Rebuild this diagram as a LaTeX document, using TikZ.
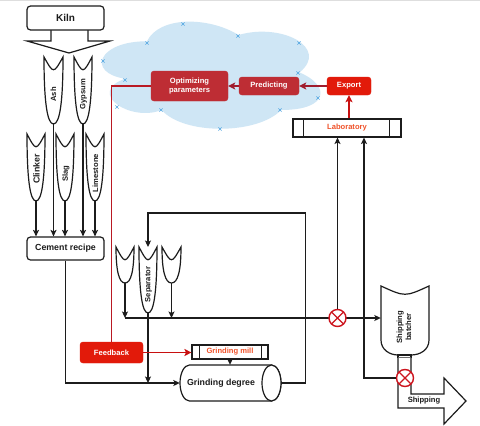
\documentclass[tikz,border=0pt]{standalone}
\usepackage{fontspec}
\setmainfont{Liberation Sans}
\usetikzlibrary{arrows.meta,calc}
\definecolor{cloudblue}{RGB}{207,230,245}
\definecolor{markblue}{RGB}{80,165,225}
\definecolor{boxdark}{RGB}{190,45,52}
\definecolor{boxbright}{RGB}{226,26,10}
\definecolor{arrdark}{RGB}{160,28,45}
\definecolor{linered}{RGB}{185,25,35}
\definecolor{fbred}{RGB}{200,16,16}
\definecolor{orangetxt}{RGB}{240,82,42}
\definecolor{circred}{RGB}{205,20,30}
\definecolor{inkc}{RGB}{28,28,28}
\newcommand\fK{\fontsize{10}{12}\selectfont\bfseries}
\newcommand\fM{\fontsize{8.8}{10.5}\selectfont\bfseries}
\newcommand\fS{\fontsize{7.6}{9}\selectfont\bfseries}
\newcommand\orgate[5]{%
 \pgfmathsetmacro\oC{(#1+#2)/2}%
 \pgfmathsetmacro\oD{#3+17}%
 \pgfmathsetmacro\oY{#3+2/3*(#4-#3)}%
 \pgfmathsetmacro\oXr{\oC+1/3*(#2-#1)}%
 \pgfmathsetmacro\oXl{\oC-1/3*(#2-#1)}%
 \draw[shp] (#1,#3) .. controls (\oC,\oD) .. (#2,#3) .. controls (#2,\oY) and (\oXr,#4) .. (\oC,#4) .. controls (\oXl,#4) and (#1,\oY) .. cycle;
 \coordinate (#5) at (\oC,#4);
 \coordinate (#5-top) at (\oC,#3);
}
\begin{document}
\begin{tikzpicture}[x=1pt,y=-1pt,
  shp/.style={draw=inkc, line width=1.2pt, fill=white},
  box/.style={draw=inkc, line width=1.2pt, fill=white, rounded corners=3.5pt, inner sep=0pt, text=inkc},
  framebox/.style={draw=inkc, line width=1.1pt, fill=white, inner sep=0pt, font=\fS, text=orangetxt},
  redbox/.style={rounded corners=3pt, fill=boxdark, draw=boxdark, text=white, font=\fS, inner sep=0pt, align=center},
  brightbox/.style={rounded corners=3pt, fill=boxbright, draw=boxbright, text=white, font=\fS, inner sep=0pt},
  arr/.style={draw=inkc, line width=1.1pt, -{Stealth[length=6.5pt,width=6pt,inset=1.5pt]}},
  darr/.style={draw=arrdark, line width=1.5pt, -{Stealth[length=7pt,width=7pt,inset=1.5pt]}},
  rarr/.style={draw=fbred, line width=1.5pt, -{Stealth[length=7pt,width=7pt,inset=1.5pt]}},
  rline/.style={draw=linered, line width=1.4pt},
  rot/.style={rotate=90, font=\fS, text=inkc, inner sep=0pt},
  xcirc/.style={circle, draw=circred, line width=1.4pt, fill=white, minimum size=17pt, inner sep=0pt,
    path picture={\draw[circred, line width=1.4pt] (path picture bounding box.north west) -- (path picture bounding box.south east) (path picture bounding box.north east) -- (path picture bounding box.south west);}},
  ghost/.style={draw=none, inner sep=0pt}
]
\useasboundingbox (0,0) rectangle (480,426);
\fill[white] (0,0) rectangle (480,426);
\fill[black!13] (0,0) rectangle (480,1.2);

% cloud
\begin{scope}[shift={(86,10)}, xscale=244, yscale=125]
\fill[cloudblue] (0.25,0.25) .. controls (0.05,0.25) and (0,0.5) .. (0.16,0.55)
  .. controls (0,0.66) and (0.18,0.9) .. (0.31,0.8)
  .. controls (0.4,1) and (0.7,1) .. (0.8,0.8)
  .. controls (1,0.8) and (1,0.6) .. (0.875,0.5)
  .. controls (1,0.3) and (0.8,0.1) .. (0.625,0.2)
  .. controls (0.5,0.05) and (0.3,0.05) .. (0.25,0.25) -- cycle;
\end{scope}
\foreach \x/\y in {183/24,238/36,299/43,147/43,103/61,125/80,298/73,318/98,117/107,161/110,280/110,220/129}
  \draw[markblue, line width=0.6pt] ({\x-1.6},{\y-1.6}) -- ({\x+1.6},{\y+1.6}) ({\x-1.6},{\y+1.6}) -- ({\x+1.6},{\y-1.6});

% kiln and its arrow
\filldraw[shp] (51,30) -- (51,41) -- (27,41) -- (69,53) -- (110,41) -- (88,41) -- (88,30);
\node[box, minimum width=77pt, minimum height=24pt, font=\fK] (kiln) at (65.5,18) {Kiln};

% material hoppers
\orgate{44}{63}{57}{124}{ash}
\orgate{74}{92}{57}{124}{gypsum}
\orgate{27}{45}{134}{201}{clinker}
\orgate{56}{74}{134}{201}{slag}
\orgate{86}{104}{134}{201}{limestone}
\node[rot] (ashlab) at (53.5,94.5) {Ash};
\node[rot] (gyplab) at (83.5,94) {Gypsum};
\node[rot, font=\fM] (clinklab) at (36.5,169) {Clinker};
\node[rot] (slaglab) at (66,173.5) {Slag};
\node[rot] (limelab) at (95.5,173) {Limestone};

\node[box, minimum width=77pt, minimum height=23pt, font=\fM] (cement) at (65.5,248.5) {Cement recipe};
\foreach \n in {clinker,ash,slag,gypsum,limestone}
  \draw[arr] (\n) -- (\n |- cement.north);

% separator
\orgate{116}{134}{247}{283}{sepL}
\orgate{139}{157}{247}{313}{sep}
\orgate{162}{181}{247}{283}{sepR}
\node[rot] (seplab) at (148.5,284.5) {Separator};

% grinding degree (cylinder)
\node[ghost, minimum width=101pt, minimum height=36pt] (grind) at (230.5,383) {};
\draw[shp] (189.5,365) -- (271.5,365) arc[start angle=-90, end angle=90, x radius=9.5, y radius=18]
  -- (189.5,401) arc[start angle=90, end angle=270, x radius=9.5, y radius=18] -- cycle;
\draw[shp] (271.5,383) ellipse[x radius=9.5, y radius=18];
\node[font=\fM, text=inkc] (grindlab) at (221,383) {Grinding degree};

% grinding mill
\node[framebox, minimum width=76pt, minimum height=14pt] (mill) at (230,352) {Grinding mill};
\draw[inkc, line width=1.1pt] ($(mill.north west)+(8,0)$) -- ($(mill.south west)+(8,0)$)
  ($(mill.north east)+(-7,0)$) -- ($(mill.south east)+(-7,0)$);

% feedback
\node[brightbox, minimum width=63pt, minimum height=21pt] (feedback) at (111.5,352.5) {Feedback};

% cloud boxes
\node[redbox, minimum width=77pt, minimum height=30pt] (opt) at (189.5,86) {Optimizing\\parameters};
\node[redbox, minimum width=60pt, minimum height=18pt] (pred) at (269,86) {Predicting};
\node[brightbox, minimum width=44pt, minimum height=18pt] (export) at (349,86) {Export};

% laboratory
\node[framebox, minimum width=108pt, minimum height=18pt] (lab) at (347,128) {Laboratory};
\draw[inkc, line width=1.1pt] ($(lab.north west)+(11,0)$) -- ($(lab.south west)+(11,0)$)
  ($(lab.north east)+(-12,0)$) -- ($(lab.south east)+(-12,0)$);

% shipping batcher
\node[ghost, minimum width=48pt, minimum height=64pt] (batcher) at (405,318) {};
\draw[shp] (381,286) .. controls (405,297) .. (429,286) -- (429,340)
  .. controls (429,350) and (420,355) .. (411,355) -- (398,355)
  .. controls (390,355) and (381,350) .. (381,340) -- cycle;
\node[rot, align=center, font=\fontsize{7.6}{9}\selectfont\bfseries] (batchlab) at (404,327) {Shipping\\batcher};
\draw[shp] (398,355) rectangle (411,357.5);
\filldraw[shp] (411,357.5) -- (411,394) -- (444,394) -- (444,378) -- (466,401) -- (444,424) -- (444,408) -- (398,408) -- (398,357.5);
\node[font=\fS, text=inkc] (shiplab) at (424,400.5) {Shipping};

% black connectors
\draw[arr] (cement.south) |- (grind.west);
\draw[arr] (sep) -- (sep |- grind.west);
\draw[arr] (sepL) -- (sepL |- batcher.west);
\draw[arr] (sepR) -- (sepR |- batcher.west);
\draw[arr] (sepL |- batcher.west) -- (batcher.west);
\draw[arr] (grind.east) -- ++(24,0) -- ++(0,-170) -| (sep-top);
\draw[arr] (mill.south) -- (mill.south |- grind.north);

% valves
\node[xcirc] (cx1) at (337.5,318) {};
\node[xcirc] (cx2) at (405,378) {};
\draw[arr] (cx1.north) -- (cx1.north |- lab.south);
\draw[arr] (cx2.west) -| ($(lab.south)+(17,0)$);

% red connectors
\draw[rarr] (export.south |- lab.north) -- (export.south);
\draw[darr] (export.west) -- (pred.east);
\draw[darr] (pred.west) -- (opt.east);
\draw[rline] (opt.west) -| (feedback.north);
\draw[rarr] (feedback.east) -- (feedback.east -| mill.west);
\end{tikzpicture}
\end{document}
